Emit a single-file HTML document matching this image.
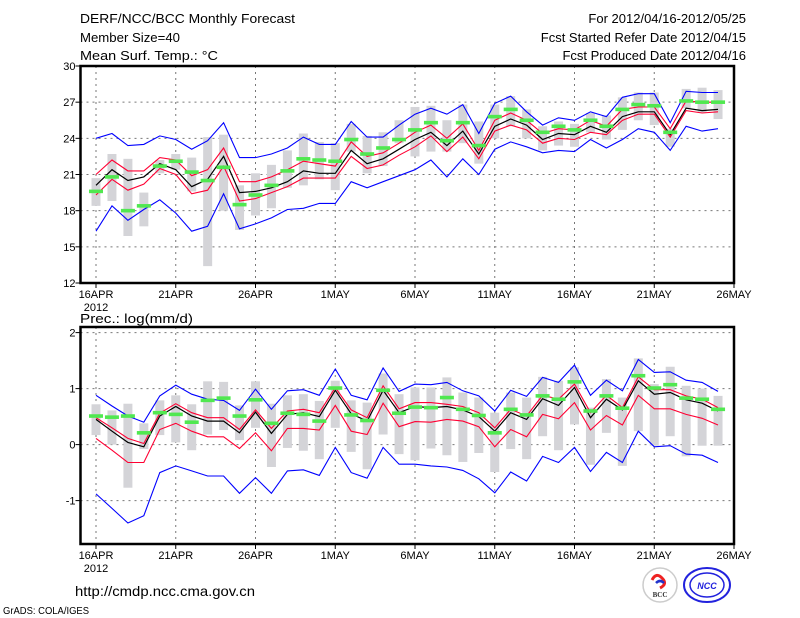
<!DOCTYPE html>
<html><head><meta charset="utf-8">
<style>
html,body{margin:0;padding:0;background:#fff;}
svg{display:block;font-family:"Liberation Sans",sans-serif;}
</style></head>
<body>
<svg id="chart" width="800" height="618" viewBox="0 0 800 618" xmlns="http://www.w3.org/2000/svg">
<rect width="800" height="618" fill="#fff"/>
<text x="80" y="23" font-size="13" textLength="215" lengthAdjust="spacingAndGlyphs">DERF/NCC/BCC Monthly Forecast</text>
<text x="80" y="42" font-size="13" textLength="100" lengthAdjust="spacingAndGlyphs">Member Size=40</text>
<text x="80" y="60" font-size="13" textLength="138" lengthAdjust="spacingAndGlyphs">Mean Surf. Temp.: °C</text>
<text x="746" y="23" font-size="13" text-anchor="end">For 2012/04/16-2012/05/25</text>
<text x="746" y="42" font-size="13" text-anchor="end">Fcst Started Refer Date 2012/04/15</text>
<text x="746" y="60" font-size="13" text-anchor="end">Fcst Produced Date 2012/04/16</text>
<text x="80" y="323" font-size="13" textLength="113" lengthAdjust="spacingAndGlyphs">Prec.: log(mm/d)</text>
<text x="75" y="596" font-size="14" textLength="180" lengthAdjust="spacingAndGlyphs">http://cmdp.ncc.cma.gov.cn</text>
<text x="3" y="614" font-size="10" textLength="86" lengthAdjust="spacingAndGlyphs">GrADS: COLA/IGES</text>
<g>
<circle cx="660" cy="585" r="17" fill="#fff" stroke="#ccc" stroke-width="1.5"/>
<path d="M652 580 q4 -8 10 -2 q6 6 -2 10" fill="none" stroke="#e22" stroke-width="3"/>
<path d="M656 583 q4 -4 8 0" fill="none" stroke="#23c" stroke-width="2.5"/>
<text x="660" y="597" font-size="7" font-weight="bold" text-anchor="middle" fill="#333" font-family="Liberation Serif,serif">BCC</text>
</g>
<g>
<ellipse cx="707" cy="585" rx="23" ry="17" fill="#fff" stroke="#22d" stroke-width="2"/>
<ellipse cx="707" cy="585" rx="17" ry="12" fill="none" stroke="#22d" stroke-width="1.5"/>
<text x="707" y="589" font-size="9" font-weight="bold" font-style="italic" text-anchor="middle" fill="#22d">NCC</text>
</g>
</svg>
<script>
const days = Array.from({length:40},(_,i)=>i);
const xTickLabels = ['16APR','21APR','26APR','1MAY','6MAY','11MAY','16MAY','21MAY','26MAY'];
// Temperature panel
const tBlueHi = [24.0,24.4,23.4,23.5,24.2,23.9,23.1,23.8,25.3,22.4,22.4,22.7,23.2,24.1,23.5,23.5,25.4,24.1,24.1,25.1,26.0,26.5,26.0,26.8,24.4,26.9,27.5,26.2,25.1,25.7,25.5,26.2,25.8,27.4,27.7,27.7,25.3,27.9,27.8,27.8];
const tBlueLo = [16.3,18.4,17.2,18.1,18.9,17.8,16.3,16.7,19.4,16.5,16.9,17.4,18.1,18.2,18.6,18.6,20.4,19.9,20.4,20.9,21.4,22.2,20.8,22.3,21.0,23.1,23.7,23.3,22.8,23.0,22.9,23.9,23.2,23.9,24.8,24.5,23.0,25.0,24.6,24.8];
const tRedHi = [21.0,22.2,21.3,21.3,22.4,22.2,20.9,21.4,23.2,20.4,20.4,20.8,21.4,22.1,21.9,21.7,23.7,22.5,22.8,23.6,24.5,25.1,24.0,25.2,23.0,25.5,26.1,25.5,24.4,24.8,24.7,25.5,25.0,26.4,26.6,26.6,24.8,27.1,27.0,27.0];
const tRedLo = [19.3,20.6,19.7,20.2,21.5,21.0,19.4,19.7,21.7,18.8,19.0,19.5,20.0,20.7,20.7,20.7,22.5,21.5,21.8,22.6,23.3,24.2,22.9,24.1,22.3,24.6,25.1,24.7,23.6,24.0,23.9,24.5,24.3,25.5,26.0,26.0,24.1,26.3,26.1,26.2];
const tMean = [20.1,21.4,20.5,20.8,21.9,21.4,20.0,20.6,22.5,19.5,19.6,19.9,20.4,21.3,21.1,21.1,23.0,21.9,22.3,23.1,23.9,24.5,23.4,24.6,22.7,25.0,25.6,25.1,23.9,24.4,24.3,25.0,24.5,25.8,26.2,26.2,24.3,26.5,26.3,26.4];
const tObs = [19.6,20.8,18.0,18.4,21.7,22.1,21.2,20.5,21.6,18.5,19.3,20.1,21.3,22.3,22.2,22.1,23.9,22.7,23.2,23.9,24.7,25.3,23.8,25.3,23.4,25.8,26.4,25.5,24.5,25.0,24.7,25.5,25.0,26.4,26.8,26.7,24.5,27.1,27.0,27.0];
const tBarHi = [20.7,22.7,22.3,19.5,22.2,22.7,22.4,24.1,24.3,20.1,21.1,21.8,23.0,24.4,23.7,23.6,25.2,24.2,24.5,25.5,26.6,26.7,25.5,26.8,25.4,26.8,27.5,26.4,25.0,25.4,25.2,26.1,25.9,27.4,27.8,27.8,24.8,28.1,28.2,28.0];
const tBarLo = [18.4,18.8,15.9,16.7,21.1,21.4,19.6,13.4,18.0,16.4,17.6,18.2,19.9,20.1,20.6,19.7,22.9,21.1,21.7,23.6,22.5,22.9,22.9,23.6,21.9,24.0,25.0,24.0,23.0,23.4,23.3,24.5,23.9,24.7,25.5,25.1,23.3,26.5,26.1,25.6];
const tTicks = [12,15,18,21,24,27,30];
// Precipitation panel
const pBlueHi = [0.88,0.69,0.51,0.40,0.87,1.06,0.90,0.81,0.79,0.61,0.99,0.63,0.96,0.98,0.88,1.35,0.88,0.80,1.37,0.95,1.08,1.07,1.11,0.96,0.87,0.60,0.97,0.86,1.20,1.11,1.42,0.88,1.15,0.96,1.52,1.29,1.30,1.15,1.11,0.95];
const pBlueLo = [-0.88,-1.14,-1.40,-1.27,-0.50,-0.38,-0.47,-0.56,-0.56,-0.87,-0.59,-0.87,-0.47,-0.45,-0.55,-0.05,-0.50,-0.60,-0.05,-0.35,-0.35,-0.38,-0.40,-0.46,-0.61,-0.86,-0.49,-0.65,-0.21,-0.32,-0.05,-0.48,-0.14,-0.32,0.24,-0.04,-0.02,-0.17,-0.19,-0.32];
const pRedHi = [0.48,0.30,0.11,0.02,0.56,0.73,0.57,0.48,0.48,0.27,0.62,0.29,0.60,0.63,0.57,1.02,0.62,0.48,1.05,0.64,0.75,0.75,0.72,0.68,0.57,0.30,0.63,0.51,0.88,0.81,1.08,0.57,0.88,0.66,1.21,0.98,0.98,0.87,0.81,0.66];
const pRedLo = [0.11,-0.10,-0.32,-0.32,0.27,0.38,0.24,0.14,0.14,-0.07,0.21,-0.11,0.29,0.29,0.26,0.70,0.24,0.18,0.74,0.32,0.41,0.40,0.45,0.42,0.32,-0.04,0.27,0.14,0.54,0.46,0.75,0.26,0.52,0.35,0.88,0.64,0.64,0.54,0.47,0.35];
const pMean = [0.45,0.24,0.04,-0.04,0.51,0.68,0.51,0.42,0.42,0.21,0.58,0.20,0.54,0.57,0.50,0.97,0.55,0.42,0.97,0.57,0.68,0.66,0.68,0.62,0.50,0.24,0.57,0.45,0.82,0.70,1.02,0.48,0.81,0.62,1.14,0.90,0.93,0.80,0.74,0.60];
const pObs = [0.51,0.49,0.51,0.21,0.57,0.54,0.40,0.79,0.83,0.51,0.80,0.38,0.56,0.54,0.42,1.01,0.53,0.43,0.97,0.56,0.67,0.66,0.84,0.63,0.52,0.21,0.63,0.53,0.87,0.81,1.12,0.60,0.87,0.65,1.23,1.01,1.07,0.83,0.81,0.63];
const pBarHi = [0.72,0.61,0.73,0.38,0.79,0.88,0.72,1.13,1.12,0.70,1.13,0.73,0.88,0.90,0.78,1.14,0.79,0.75,1.27,0.90,1.02,1.02,1.20,0.93,0.84,0.57,0.93,0.84,1.21,1.14,1.38,0.66,1.17,0.84,1.54,1.08,1.39,1.05,1.00,0.87];
const pBarLo = [0.17,0.00,-0.77,-0.08,0.17,0.04,-0.10,0.18,0.26,0.08,0.30,-0.40,-0.06,-0.11,-0.26,0.30,-0.13,-0.44,0.18,-0.17,-0.28,-0.07,-0.19,-0.31,-0.15,-0.49,-0.08,-0.26,0.15,-0.10,0.36,-0.36,0.21,-0.38,0.24,-0.02,0.15,-0.21,-0.02,-0.02];
const pTicks = [-1,0,1,2];

const NS='http://www.w3.org/2000/svg';
const svg=document.getElementById('chart');
function mk(tag,attrs,parent){const e=document.createElementNS(NS,tag);for(const k in attrs)e.setAttribute(k,attrs[k]);(parent||svg).appendChild(e);return e;}
const X0=80.5,X1=734,DAY0=96,DAYW=15.95;
function xScale(d){return DAY0+d*DAYW;}

function panel(cfg){
  const g=mk('g',{});
  
  
  const y=v=>cfg.yTop+(cfg.vTop-v)*cfg.ppu;
  // grid
  for(let i=0;i<xTickLabels.length;i++){
    const x=xScale(i*5);
    if(i>0&&i<xTickLabels.length-1){const l=mk('line',{x1:x,x2:x,y1:cfg.yTop,y2:cfg.yBot,stroke:'#777','stroke-width':1,'stroke-dasharray':'2,4'},g);
    
    }
    else if(i==0){const l=mk('line',{x1:x,x2:x,y1:cfg.yTop,y2:cfg.yBot,stroke:'#777','stroke-width':1,'stroke-dasharray':'2,4'},g);
    
    }
    mk('line',{x1:x,x2:x,y1:cfg.yBot,y2:cfg.yBot+5,stroke:'#000','stroke-width':1},g);
    const t=mk('text',{x:x,y:cfg.yBot+15,'font-size':11,'text-anchor':'middle'},g);
    t.textContent=xTickLabels[i];
    
    
  }
  const yr=mk('text',{x:xScale(0),y:cfg.yBot+28,'font-size':11,'text-anchor':'middle'},g);
  yr.textContent='2012';
  
  
  cfg.ticks.forEach(v=>{
    const yy=y(v);
    if(yy>cfg.yTop+2&&yy<cfg.yBot-2){const l=mk('line',{x1:X0,x2:X1,y1:yy,y2:yy,stroke:'#777','stroke-width':1,'stroke-dasharray':'2,4'},g);
    
    }
    mk('line',{x1:X0-5,x2:X0,y1:yy,y2:yy,stroke:'#000','stroke-width':1},g);
    const t=mk('text',{x:X0-5,y:yy+4,'font-size':11,'text-anchor':'end'},g);
    t.textContent=String(v).replace('-','−').replace('−','-');
    
    
  });
  // bars
  days.forEach(d=>{
    const x=xScale(d);
    const b=mk('rect',{x:x-4.5,y:y(cfg.barHi[d]),width:9,height:Math.max(1,y(cfg.barLo[d])-y(cfg.barHi[d])),fill:'#d4d4d8'},g);
    
    
  });
  function line(arr,color,w,name){
    const p=mk('polyline',{points:days.map(d=>xScale(d).toFixed(1)+','+y(arr[d]).toFixed(1)).join(' '),fill:'none',stroke:color,'stroke-width':w},g);
    
    
  }
  line(cfg.blueHi,'#0000ff',1.1,'max-line');
  line(cfg.blueLo,'#0000ff',1.1,'min-line');
  line(cfg.redHi,'#ff0033',1.1,'upper-spread-line');
  line(cfg.redLo,'#ff0033',1.1,'lower-spread-line');
  line(cfg.mean,'#000',1.2,'ensemble-mean-line');
  days.forEach(d=>{
    const o=mk('rect',{x:xScale(d)-7,y:y(cfg.obs[d])-1.8,width:14,height:3.6,fill:'#50e850'},g);
    
    
  });
  const f=mk('rect',{x:X0,y:cfg.yTop,width:X1-X0,height:cfg.yBot-cfg.yTop,fill:'none',stroke:'#000','stroke-width':2.5},g);
  
  
}
panel({name:'temperature-panel',yTop:66,yBot:283,vTop:30,ppu:217/18,ticks:tTicks,blueHi:tBlueHi,blueLo:tBlueLo,redHi:tRedHi,redLo:tRedLo,mean:tMean,obs:tObs,barHi:tBarHi,barLo:tBarLo});
panel({name:'precipitation-panel',yTop:327,yBot:544,vTop:2.1,ppu:56,ticks:pTicks,blueHi:pBlueHi,blueLo:pBlueLo,redHi:pRedHi,redLo:pRedLo,mean:pMean,obs:pObs,barHi:pBarHi,barLo:pBarLo});
</script>
</body></html>
